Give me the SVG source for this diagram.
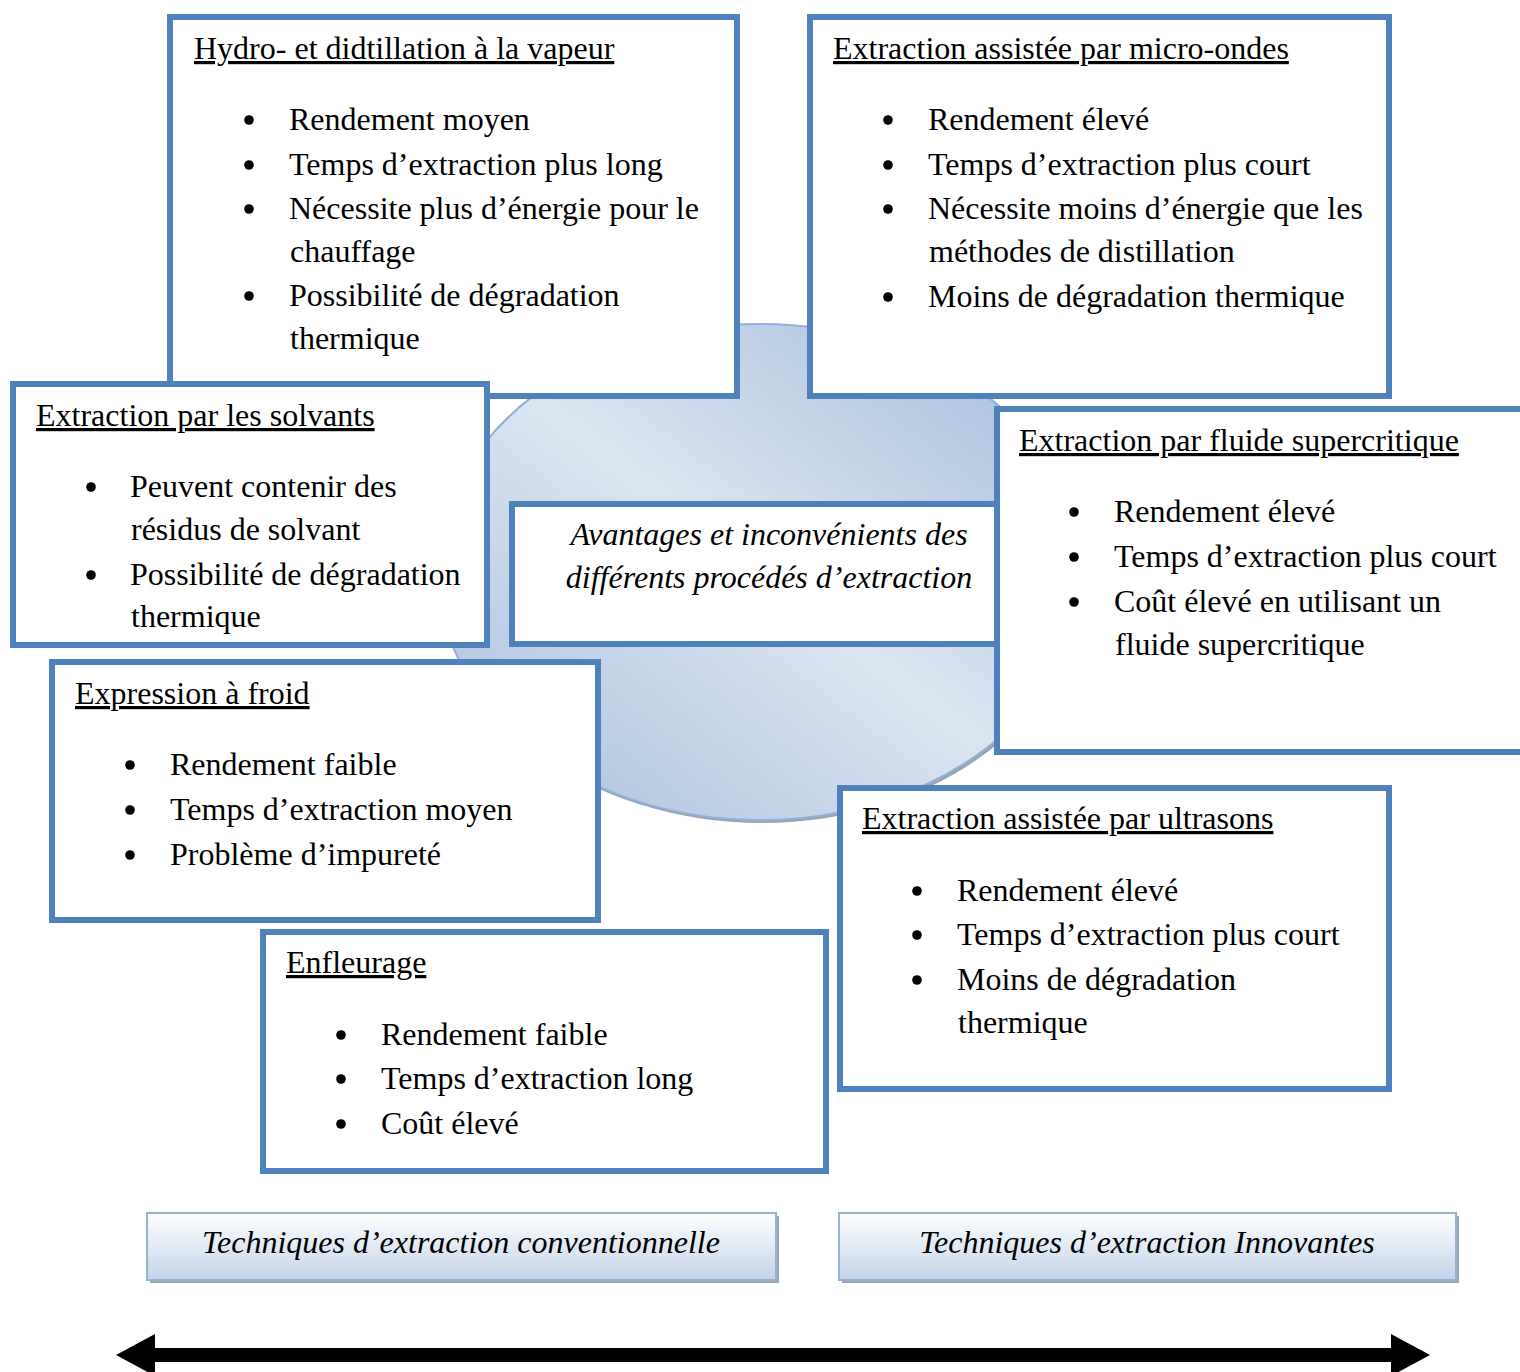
<svg xmlns="http://www.w3.org/2000/svg" width="1520" height="1372" viewBox="0 0 1520 1372">
<style>
text{font-family:"Liberation Serif","Times New Roman",serif;font-size:32px;fill:#000}
.h{text-decoration:underline}
.it{font-style:italic}
.box{fill:#fff;stroke:#4f81bd;stroke-width:6}
.lbl{stroke:#95b3d7;stroke-width:2;fill:url(#lg)}
.sh{fill:#9aa6b6}
.b{fill:#000}
</style>
<defs>
<linearGradient id="eg" x1="1" y1="0" x2="0" y2="1">
<stop offset="0" stop-color="#9fb9da"/>
<stop offset="0.5" stop-color="#dbe5f1"/>
<stop offset="1" stop-color="#a5bddc"/>
</linearGradient>
<linearGradient id="lg" x1="0" y1="0" x2="0" y2="1">
<stop offset="0" stop-color="#ffffff"/>
<stop offset="1" stop-color="#c3d3e9"/>
</linearGradient>
</defs>
<g id="circle">
<ellipse cx="762" cy="575" rx="322" ry="248" fill="#9aa3ae"/>
<ellipse cx="760" cy="572" rx="322" ry="248" fill="url(#eg)" stroke="#8eb0da" stroke-width="2"/>
</g>
<g id="hydro">
<rect class="box" x="170" y="17" width="567" height="379"/>
<text class="h" x="194" y="59">Hydro- et didtillation à la vapeur</text>
<circle class="b" cx="249" cy="120" r="4.8"/><text x="289" y="130">Rendement moyen</text>
<circle class="b" cx="249" cy="165" r="4.8"/><text x="289" y="175">Temps d’extraction plus long</text>
<circle class="b" cx="249" cy="209" r="4.8"/><text x="289" y="219">Nécessite plus d’énergie pour le</text>
<text x="290" y="262">chauffage</text>
<circle class="b" cx="249" cy="296" r="4.8"/><text x="289" y="306">Possibilité de dégradation</text>
<text x="290" y="349">thermique</text>
</g>
<g id="micro">
<rect class="box" x="810" y="17" width="579" height="379"/>
<text class="h" x="833" y="59">Extraction assistée par micro-ondes</text>
<circle class="b" cx="888" cy="120" r="4.8"/><text x="928" y="130">Rendement élevé</text>
<circle class="b" cx="888" cy="165" r="4.8"/><text x="928" y="175">Temps d’extraction plus court</text>
<circle class="b" cx="888" cy="209" r="4.8"/><text x="928" y="219">Nécessite moins d’énergie que les</text>
<text x="929" y="262">méthodes de distillation</text>
<circle class="b" cx="888" cy="297" r="4.8"/><text x="928" y="307">Moins de dégradation thermique</text>
</g>
<g id="solvants">
<rect class="box" x="13" y="384" width="474" height="261"/>
<text class="h" x="36" y="426">Extraction par les solvants</text>
<circle class="b" cx="91" cy="487" r="4.8"/><text x="130" y="497">Peuvent contenir des</text>
<text x="131" y="540">résidus de solvant</text>
<circle class="b" cx="91" cy="575" r="4.8"/><text x="130" y="585">Possibilité de dégradation</text>
<text x="131" y="627">thermique</text>
</g>
<g id="centre">
<rect class="box" x="512" y="504" width="500" height="140"/>
<text class="it" x="769" y="545" text-anchor="middle">Avantages et inconvénients des</text>
<text class="it" x="769" y="588" text-anchor="middle">différents procédés d’extraction</text>
</g>
<g id="fluide">
<rect class="box" x="997" y="409" width="540" height="343"/>
<text class="h" x="1019" y="451">Extraction par fluide supercritique</text>
<circle class="b" cx="1074" cy="512" r="4.8"/><text x="1114" y="522">Rendement élevé</text>
<circle class="b" cx="1074" cy="557" r="4.8"/><text x="1114" y="567">Temps d’extraction plus court</text>
<circle class="b" cx="1074" cy="602" r="4.8"/><text x="1114" y="612">Coût élevé en utilisant un</text>
<text x="1115" y="655">fluide supercritique</text>
</g>
<g id="froid">
<rect class="box" x="52" y="662" width="546" height="258"/>
<text class="h" x="75" y="704">Expression à froid</text>
<circle class="b" cx="130" cy="765" r="4.8"/><text x="170" y="775">Rendement faible</text>
<circle class="b" cx="130" cy="810" r="4.8"/><text x="170" y="820">Temps d’extraction moyen</text>
<circle class="b" cx="130" cy="855" r="4.8"/><text x="170" y="865">Problème d’impureté</text>
</g>
<g id="ultrasons">
<rect class="box" x="840" y="788" width="549" height="301"/>
<text class="h" x="862" y="829">Extraction assistée par ultrasons</text>
<circle class="b" cx="917" cy="891" r="4.8"/><text x="957" y="901">Rendement élevé</text>
<circle class="b" cx="917" cy="935" r="4.8"/><text x="957" y="945">Temps d’extraction plus court</text>
<circle class="b" cx="917" cy="980" r="4.8"/><text x="957" y="990">Moins de dégradation</text>
<text x="958" y="1033">thermique</text>
</g>
<g id="enfleurage">
<rect class="box" x="263" y="932" width="563" height="239"/>
<text class="h" x="286" y="973">Enfleurage</text>
<circle class="b" cx="341" cy="1035" r="4.8"/><text x="381" y="1045">Rendement faible</text>
<circle class="b" cx="341" cy="1079" r="4.8"/><text x="381" y="1089">Temps d’extraction long</text>
<circle class="b" cx="341" cy="1124" r="4.8"/><text x="381" y="1134">Coût élevé</text>
</g>
<g id="conventionnelle">
<rect class="sh" x="150" y="1216" width="629" height="67"/>
<rect class="lbl" x="147" y="1213" width="629" height="67"/>
<text class="it" x="461" y="1253" text-anchor="middle">Techniques d’extraction conventionnelle</text>
</g>
<g id="innovantes">
<rect class="sh" x="842" y="1216" width="617" height="67"/>
<rect class="lbl" x="839" y="1213" width="617" height="67"/>
<text class="it" x="1147" y="1253" text-anchor="middle">Techniques d’extraction Innovantes</text>
</g>
<g id="connectors">
<polygon points="116,1355 155,1334 155,1348 1391,1348 1391,1334 1430,1355 1391,1376 1391,1362 155,1362 155,1376" fill="#000"/>
</g>
</svg>
